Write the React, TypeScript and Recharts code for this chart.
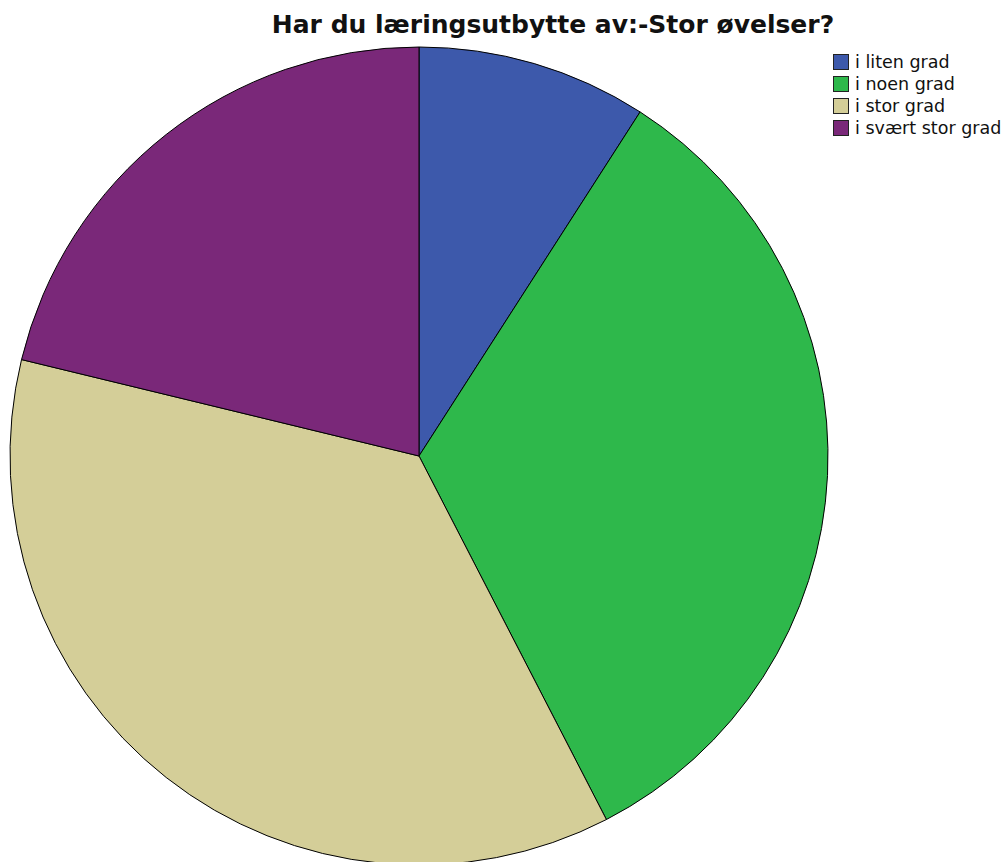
import { PieChart, Pie, Cell } from "recharts"

const categories = ["i liten grad", "i noen grad", "i stor grad", "i svært stor grad"]
const counts = [3, 11, 12, 7]
const COLORS = ["#3d59ab", "#2eb84b", "#d4ce98", "#7a2879"]

const data = categories.map((name, i) => ({ name, value: counts[i] }))

export default function App() {
  return (
    <div style={{ position: "absolute", left: 0, top: 0, width: 1008, height: 862, background: "#fff", overflow: "hidden", fontFamily: "'DejaVu Sans', sans-serif" }}>
      <div style={{ position: "absolute", left: 0, top: 10, width: 1106, textAlign: "center", fontSize: 25, lineHeight: "30px", fontWeight: "bold", color: "#111" }}>
        Har du læringsutbytte av:-Stor øvelser?
      </div>

      <div style={{ position: "absolute", left: 833, top: 51 }}>
        {categories.map((c, i) => (
          <div key={c} style={{ display: "flex", alignItems: "center", height: 22 }}>
            <div style={{ width: 16, height: 16, background: COLORS[i], border: "1px solid #222", boxSizing: "border-box", marginRight: 6 }} />
            <span style={{ fontSize: 17.5, color: "#111" }}>{c}</span>
          </div>
        ))}
      </div>

      <PieChart width={1008} height={862} margin={{ top: 0, right: 0, bottom: 0, left: 0 }} style={{ position: "absolute", left: 0, top: 0 }}>
        <Pie
          data={data}
          dataKey="value"
          nameKey="name"
          cx={419}
          cy={456}
          outerRadius={409}
          startAngle={90}
          endAngle={-270}
          stroke="#000"
          strokeWidth={1}
          isAnimationActive={false}
        >
          {data.map((entry, index) => (
            <Cell key={`cell-${index}`} fill={COLORS[index % COLORS.length]} />
          ))}
        </Pie>
      </PieChart>
    </div>
  )
}
